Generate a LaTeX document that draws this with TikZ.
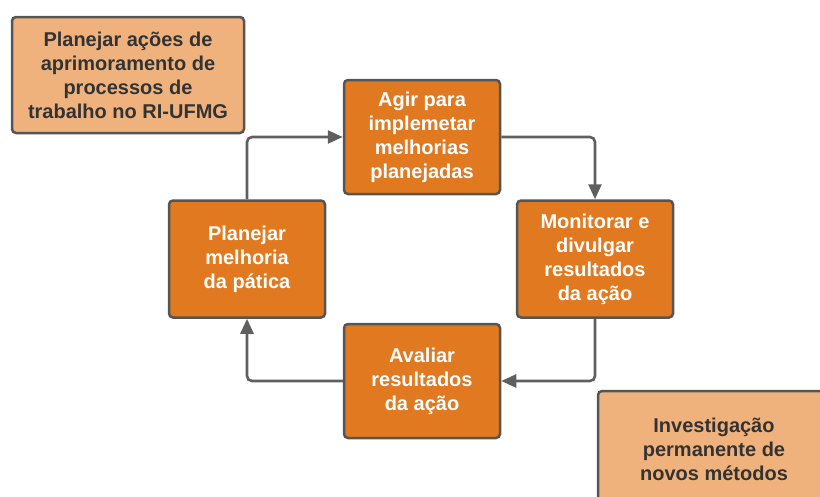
\documentclass[tikz,border=0pt]{standalone}
\usepackage{fontspec}
\setmainfont{Liberation Sans}
\usetikzlibrary{arrows.meta}

\begin{document}
\begin{tikzpicture}[x=1pt, y=-1pt, >={Triangle[length=15pt,width=13pt]},
  stepbox/.style={draw=edge, line width=2.5pt, rounded corners=4pt, align=center,
    inner sep=0pt, font=\fontsize{20}{24}\selectfont\bfseries},
  cyclebox/.style={stepbox, fill=deep, text=white, minimum width=156pt, minimum height=114pt},
  notebox/.style={stepbox, fill=pale, text=ink, minimum width=232pt, minimum height=116pt},
  link/.style={->, draw=wire, line width=2.6pt, rounded corners=5pt}]
  \definecolor{deep}{RGB}{224,121,31}
  \definecolor{pale}{RGB}{240,178,125}
  \definecolor{edge}{RGB}{85,85,85}
  \definecolor{wire}{RGB}{95,95,95}
  \definecolor{ink}{RGB}{51,51,51}

  \clip (0,0) rectangle (820,496);

  \node[notebox] (plano) at (128,75) {Planejar ações de\\aprimoramento de\\processos de\\trabalho no RI-UFMG};
  \node[notebox] (invest) at (714,449) {Investigação\\permanente de\\novos métodos};

  \node[cyclebox] (agir) at (422,137) {Agir para\\implemetar\\melhorias\\planejadas};
  \node[cyclebox, minimum height=117pt] (melhoria) at (247,259) {Planejar\\melhoria\\da pática};
  \node[cyclebox, minimum height=117pt] (monit) at (595,259) {Monitorar e\\divulgar\\resultados\\da ação};
  \node[cyclebox] (avaliar) at (422,381) {Avaliar\\resultados\\da ação};

  \draw[link] (melhoria.north) |- (agir.west);
  \draw[link] (agir.east) -| (monit.north);
  \draw[link] (monit.south) |- (avaliar.east);
  \draw[link] (avaliar.west) -| (melhoria.south);
\end{tikzpicture}
\end{document}
